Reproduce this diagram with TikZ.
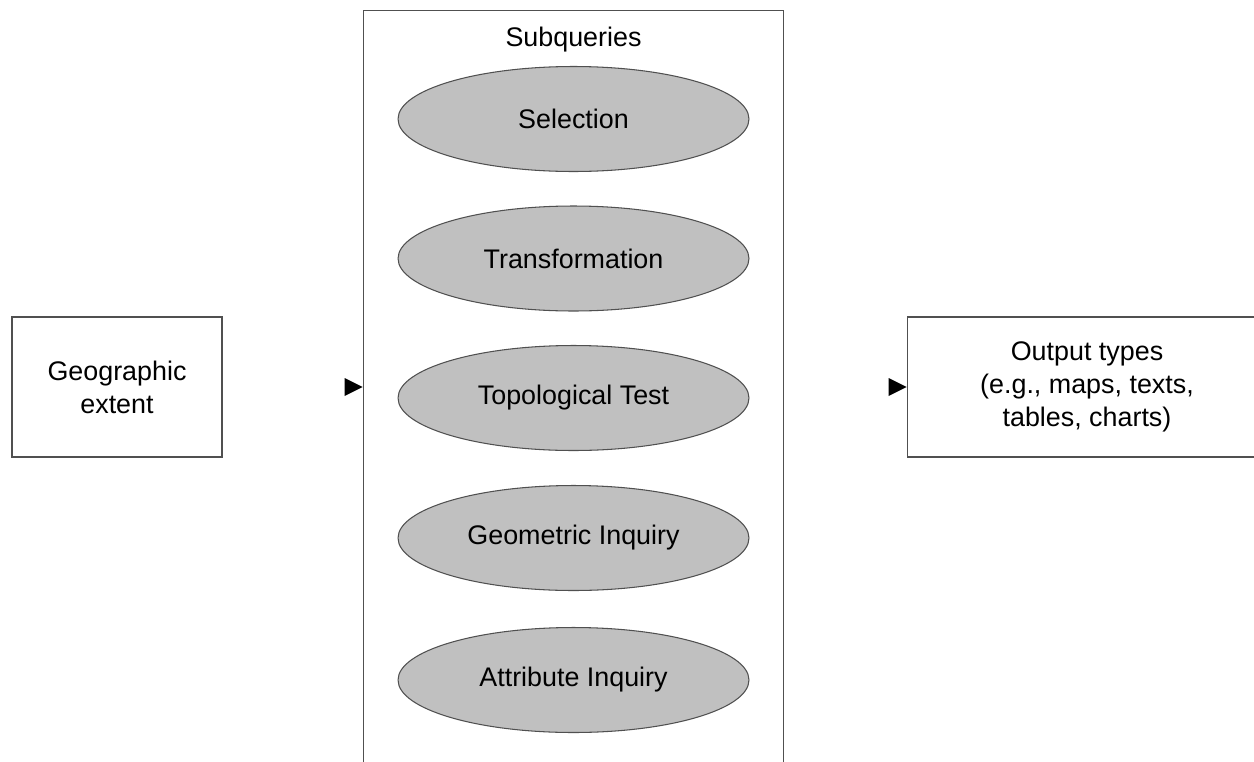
\documentclass[tikz,border=0pt]{standalone}
\usepackage{fontspec}
\setmainfont{Liberation Sans}
\usetikzlibrary{shapes.geometric}
\definecolor{querygray}{HTML}{C0C0C0}
\definecolor{edgegray}{HTML}{505050}

\begin{document}
\begin{tikzpicture}[x=0.02cm, y=-0.02cm,
    every node/.style={font=\fontsize{15.3}{18.7}\selectfont, align=center},
    box/.style={draw=edgegray, line width=0.6pt, fill=white, inner sep=0pt},
    query/.style={ellipse, draw=edgegray, line width=0.6pt, fill=querygray,
                  inner sep=0pt, minimum width=7.02cm, minimum height=2.1cm}]
  \useasboundingbox (0,0) rectangle (1254,761);
  \clip (0,0) rectangle (1254,761);

  \node[box, minimum width=4.2cm, minimum height=2.8cm] (extent) at (117,387) {Geographic\\extent};
  \node[box, minimum width=8.42cm, minimum height=15.08cm] (sub) at (573.5,387) {};
  \node[box, minimum width=7.2cm, minimum height=2.8cm] (output) at (1087,387) {Output types\\(e.g., maps, texts,\\tables, charts)};

  \node (title) at (573.5,40) {Subqueries};
  \node[query] (select) at (573.5,119) {Selection};
  \node[query] (transform) at (573.5,258.5) {Transformation};
  \node[query] (topo) at (573.5,398) {Topological Test};
  \node[query] (geom) at (573.5,538) {Geometric Inquiry};
  \node[query] (attrib) at (573.5,680) {Attribute Inquiry};

  % arrow heads only
  \fill (sub.west) -- ([xshift=-0.36cm, yshift=0.18cm]sub.west)
                   -- ([xshift=-0.36cm, yshift=-0.18cm]sub.west) -- cycle;
  \fill (output.west) -- ([xshift=-0.36cm, yshift=0.18cm]output.west)
                      -- ([xshift=-0.36cm, yshift=-0.18cm]output.west) -- cycle;
\end{tikzpicture}
\end{document}
